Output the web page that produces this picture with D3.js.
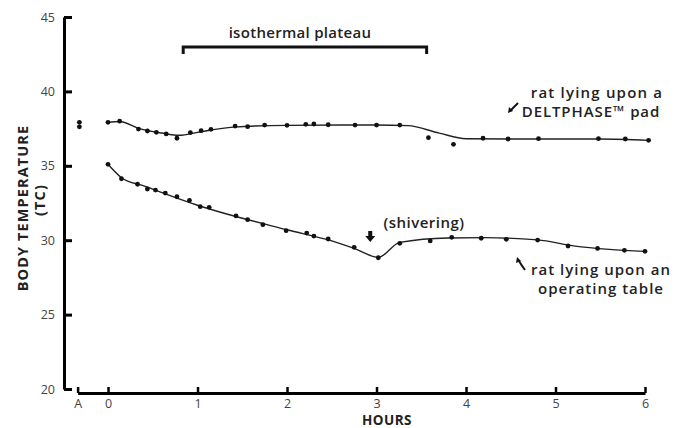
<!DOCTYPE html>
<html>
<head>
<meta charset="utf-8">
<script src="https://cdn.jsdelivr.net/npm/d3@7"></script>
<style>
  body { margin: 0; background: #fff; }
  text { font-family: "Open Sans", "DejaVu Sans", sans-serif; }
</style>
</head>
<body>
<script>
// tick labels, "A" is the reading taken before the start
const xTickLabels = ["A", "0", "1", "2", "3", "4", "5", "6"];
const xTickHours = [-0.34, 0, 1, 2, 3, 4, 5, 6];
const yTicks = [20, 25, 30, 35, 40, 45];

// before-start readings
const startHours = [-0.32, -0.32];
const startTemps = [37.92, 37.62];

// rat on the DELTPHASE pad
const upperHours = [0, 0.13, 0.34, 0.44, 0.54, 0.65, 0.77, 0.92, 1.04, 1.15, 1.42, 1.56, 1.75, 2.0, 2.21, 2.30, 2.46, 2.76, 3.0, 3.26, 3.58, 3.86, 4.19, 4.47, 4.81, 5.48, 5.78, 6.04];
const upperTemps = [37.92, 38.0, 37.47, 37.34, 37.25, 37.14, 36.85, 37.23, 37.36, 37.45, 37.67, 37.63, 37.74, 37.72, 37.79, 37.81, 37.76, 37.74, 37.74, 37.74, 36.89, 36.44, 36.85, 36.80, 36.82, 36.82, 36.80, 36.71];
const upperFitHours = [0, 0.13, 0.35, 0.6, 0.8, 1.0, 1.4, 2.0, 3.0, 3.35, 3.7, 4.0, 4.5, 5.5, 6.04];
const upperFitTemps = [37.92, 37.98, 37.5, 37.2, 37.05, 37.25, 37.6, 37.72, 37.74, 37.7, 37.2, 36.82, 36.8, 36.8, 36.71];

// rat on the operating table
const lowerHours = [0, 0.15, 0.33, 0.44, 0.53, 0.64, 0.77, 0.91, 1.03, 1.13, 1.43, 1.56, 1.73, 1.99, 2.22, 2.30, 2.46, 2.75, 3.02, 3.26, 3.6, 3.84, 4.17, 4.45, 4.80, 5.14, 5.47, 5.77, 6.0];
const lowerTemps = [35.10, 34.13, 33.76, 33.44, 33.37, 33.17, 32.92, 32.68, 32.25, 32.21, 31.63, 31.38, 31.04, 30.64, 30.48, 30.28, 30.08, 29.52, 28.82, 29.79, 29.95, 30.19, 30.13, 30.06, 30.01, 29.61, 29.45, 29.32, 29.25];
const lowerFitHours = [0, 0.15, 0.4, 1.0, 2.0, 2.5, 2.75, 3.02, 3.26, 3.8, 4.2, 4.8, 5.2, 5.6, 6.0];
const lowerFitTemps = [35.1, 34.2, 33.65, 32.35, 30.7, 29.95, 29.45, 28.85, 29.85, 30.15, 30.17, 30.02, 29.62, 29.38, 29.25];

const plateau = [0.84, 3.56];
const shiverHour = 2.93;

var w = 679;
var h = 428;

let x = d3.scaleLinear().domain([-0.34, 6]).range([77.6, 645]);
let y = d3.scaleLinear().domain([20, 45]).range([389, 17]);

let svg = d3.select("body")
  .append("svg")
  .attr("width", w)
  .attr("height", h);

// y axis, ticks pointing inward
let yAxis = svg.append("g")
  .attr("transform", "translate(64,0)")
  .call(d3.axisLeft(y).tickValues(yTicks).tickSizeInner(-8).tickSizeOuter(0).tickPadding(9));
yAxis.select(".domain").attr("stroke-width", 3);
yAxis.selectAll(".tick line").attr("stroke-width", 3);
yAxis.selectAll(".tick text").attr("font-size", 12.5).attr("fill", "#444");

// x axis, separate from the y axis, ticks pointing up
let xAxis = svg.append("g")
  .attr("transform", "translate(0,393)")
  .call(d3.axisBottom(x).tickValues(xTickHours)
    .tickFormat(function (d, i) { return xTickLabels[i]; })
    .tickSizeInner(-6).tickSizeOuter(0).tickPadding(6));
xAxis.select(".domain").attr("stroke-width", 3);
xAxis.selectAll(".tick line").attr("stroke-width", 2.5);
xAxis.selectAll(".tick text").attr("font-size", 12.5).attr("fill", "#444");

svg.append("text")
  .attr("x", 387).attr("y", 425)
  .attr("text-anchor", "middle")
  .attr("font-size", 13.5).attr("font-weight", 700).attr("fill", "#222")
  .attr("letter-spacing", 0.5)
  .text("HOURS");

svg.append("text")
  .attr("transform", "translate(28,208) rotate(-90)")
  .attr("text-anchor", "middle")
  .attr("font-size", 14.5).attr("font-weight", 700).attr("fill", "#222")
  .attr("letter-spacing", 1.1)
  .text("BODY TEMPERATURE");
svg.append("text")
  .attr("transform", "translate(45,200) rotate(-90)")
  .attr("text-anchor", "middle")
  .attr("font-size", 14.5).attr("font-weight", 700).attr("fill", "#222")
  .attr("letter-spacing", 1.1)
  .text("(TC)");

let line = d3.line()
  .x(function (d) { return x(d[0]); })
  .y(function (d) { return y(d[1]); })
  .curve(d3.curveMonotoneX);

svg.append("path")
  .datum(upperFitHours.map(function (d, i) { return [d, upperFitTemps[i]]; }))
  .attr("d", line)
  .attr("fill", "none").attr("stroke", "#222").attr("stroke-width", 1.4);

svg.append("path")
  .datum(lowerFitHours.map(function (d, i) { return [d, lowerFitTemps[i]]; }))
  .attr("d", line)
  .attr("fill", "none").attr("stroke", "#222").attr("stroke-width", 1.4);

function dots(hours, temps) {
  svg.append("g")
    .selectAll("circle")
    .data(hours)
    .enter()
    .append("circle")
    .attr("cx", function (d) { return x(d); })
    .attr("cy", function (d, i) { return y(temps[i]); })
    .attr("r", 2.4)
    .attr("fill", "#111");
}
dots(startHours, startTemps);
dots(upperHours, upperTemps);
dots(lowerHours, lowerTemps);

// isothermal plateau bracket
let bx0 = x(plateau[0]), bx1 = x(plateau[1]);
svg.append("path")
  .attr("d", `M${bx0},54 V47 H${bx1} V54`)
  .attr("fill", "none").attr("stroke", "#111").attr("stroke-width", 3);

function note(tx, ty, str, spacing) {
  svg.append("text")
    .attr("x", tx).attr("y", ty)
    .attr("text-anchor", "middle")
    .attr("font-size", 15).attr("font-weight", 600).attr("fill", "#222")
    .attr("letter-spacing", spacing)
    .text(str);
}
note(300, 38, "isothermal plateau", 0.3);

// series labels
note(597, 98, "rat lying upon a", 1.2);
note(591, 117, "DELTPHASE\u2122 pad", 0.9);
svg.append("path")
  .attr("d", "M518,103 L510,111")
  .attr("stroke", "#111").attr("stroke-width", 2);
svg.append("path")
  .attr("d", "M508,113 L509,107 L513,111 Z")
  .attr("fill", "#111");

note(601, 275, "rat lying upon an", 1.0);
note(601, 294, "operating table", 1.0);
svg.append("path")
  .attr("d", "M525,270 Q522,266 519,261")
  .attr("fill", "none").attr("stroke", "#111").attr("stroke-width", 2);
svg.append("path")
  .attr("d", "M517,257 L516,263 L521,261 Z")
  .attr("fill", "#111");

// shivering marker
let sx = x(shiverHour);
svg.append("path")
  .attr("d", `M${sx - 2},231 H${sx + 2} V236 H${sx + 5} L${sx},242 L${sx - 5},236 H${sx - 2} Z`)
  .attr("fill", "#111");
note(424, 228, "(shivering)", 0.5);
</script>
</body>
</html>
